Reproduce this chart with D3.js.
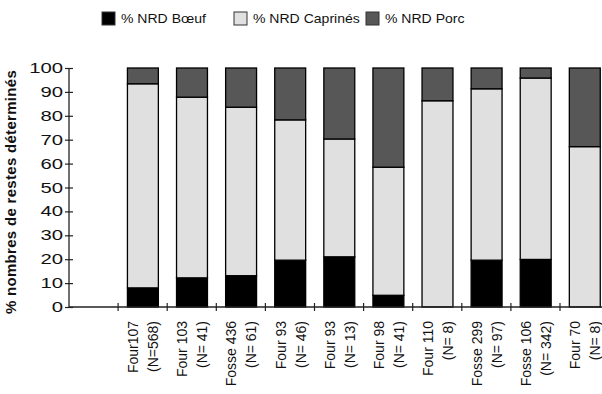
<!DOCTYPE html>
<html>
<head>
<meta charset="utf-8">
<script src="https://cdn.jsdelivr.net/npm/d3@7"></script>
<style>
  body { margin: 0; background: #fff; }
  text { font-family: "Liberation Sans", Arial, sans-serif; fill: #111; }
</style>
</head>
<body>
<svg id="chart" width="602" height="394"></svg>
<script>

// categories (two label lines each)
const labelsTop = ['Four107', 'Four 103', 'Fosse 436', 'Four 93', 'Four 93', 'Four 98', 'Four 110', 'Fosse 299', 'Fosse 106', 'Four 70'];
const labelsN = ['(N=568)', '(N= 41)', '(N= 61)', '(N= 46)', '(N= 13)', '(N= 41)', '(N= 8)', '(N= 97)', '(N= 342)', '(N= 8)'];

// percentages
const boeuf = [8, 12.2, 13.1, 19.6, 21, 4.9, 0, 19.6, 19.9, 0];
const caprines = [85.4, 75.6, 70.5, 58.7, 49.3, 53.6, 86.3, 71.7, 75.9, 67.1];
const porc = [6.6, 12.2, 16.4, 21.7, 29.7, 41.5, 13.7, 8.7, 4.2, 32.9];

const seriesNames = ['% NRD Bœuf', '% NRD Caprinés', '% NRD Porc'];
const seriesColors = ['#000000', '#e0e0e0', '#575757'];
const yTicks = [0, 10, 20, 30, 40, 50, 60, 70, 80, 90, 100];

const svg = d3.select('#chart');

const ids = labelsTop.map((d, i) => 'c' + i);
const rows = ids.map((id, i) => ({id: id, b: boeuf[i], c: caprines[i], p: porc[i]}));

// first band is left empty, like the original
const x = d3.scaleBand()
    .domain(['blank'].concat(ids))
    .range([69, 69 + 11 * 49.1])
    .padding(0);

const y = d3.scaleLinear().domain([0, 100]).range([307, 68]);

const stack = d3.stack().keys(['b', 'c', 'p']);
const layers = stack(rows);

const bw = x.step() * 0.63;
const bOff = x.step() * 0.19;

svg.append('g').selectAll('g')
    .data(layers)
    .join('g')
    .attr('fill', (d, i) => seriesColors[i])
    .selectAll('rect')
    .data(d => d.filter(s => s[1] - s[0] > 0))
    .join('rect')
    .attr('x', d => x(d.data.id) + bOff)
    .attr('width', bw)
    .attr('y', d => y(d[1]))
    .attr('height', d => y(d[0]) - y(d[1]))
    .attr('stroke', '#000')
    .attr('stroke-width', 1.3);

// y axis
const yAxis = svg.append('g')
    .attr('transform', 'translate(69,0)')
    .call(d3.axisLeft(y).tickValues(yTicks).tickSize(4).tickFormat(''));
yAxis.select('.domain').attr('stroke', '#222').attr('stroke-width', 1.3).attr('d', 'M0,' + y(100) + 'V' + y(0));
yAxis.selectAll('.tick line').attr('x1', -4).attr('x2', 4).attr('stroke', '#222').attr('stroke-width', 1.2);

svg.append('g').selectAll('text')
    .data(yTicks)
    .join('text')
    .attr('transform', d => 'translate(63,' + y(d) + ') scale(1.45,1)')
    .attr('text-anchor', 'end')
    .attr('dy', '0.36em')
    .style('font-size', '14px')
    .text(d => d);

// x axis
svg.append('line')
    .attr('x1', 69).attr('x2', 602)
    .attr('y1', y(0)).attr('y2', y(0))
    .attr('stroke', '#222').attr('stroke-width', 1.3);

svg.append('g').selectAll('line')
    .data(ids)
    .join('line')
    .attr('x1', d => x(d)).attr('x2', d => x(d))
    .attr('y1', y(0) - 4).attr('y2', y(0) + 4)
    .attr('stroke', '#222').attr('stroke-width', 1.2);

const xl = svg.append('g');
ids.forEach(function(id, i) {
    const cx = x(id) + x.step() / 2;
    xl.append('text')
        .attr('transform', 'translate(' + (cx - 10) + ',321) scale(1.1,1) rotate(-90)')
        .attr('text-anchor', 'end')
        .attr('dy', '0.36em')
        .style('font-size', '14px')
        .text(labelsTop[i]);
    xl.append('text')
        .attr('transform', 'translate(' + (cx + 10) + ',321) scale(1.1,1) rotate(-90)')
        .attr('text-anchor', 'end')
        .attr('dy', '0.36em')
        .style('font-size', '14px')
        .text(labelsN[i]);
});

// y title
svg.append('text')
    .attr('transform', 'translate(11,192) rotate(-90)')
    .attr('text-anchor', 'middle')
    .attr('dy', '0.36em')
    .style('font-size', '15px')
    .style('letter-spacing', '0.3px')
    .style('font-weight', 'bold')
    .text('% nombres de restes déterminés');

// legend
const legendX = [102, 234, 366];
const lg = svg.append('g').selectAll('g')
    .data(seriesNames)
    .join('g')
    .attr('transform', (d, i) => 'translate(' + legendX[i] + ',12)');
lg.append('rect')
    .attr('width', 13).attr('height', 13)
    .attr('fill', (d, i) => seriesColors[i])
    .attr('stroke', '#333').attr('stroke-width', 1);
lg.append('text')
    .attr('transform', 'translate(19,11) scale(1.08,1)')
    .style('font-size', '13px')
    .text(d => d);

</script>
</body>
</html>
